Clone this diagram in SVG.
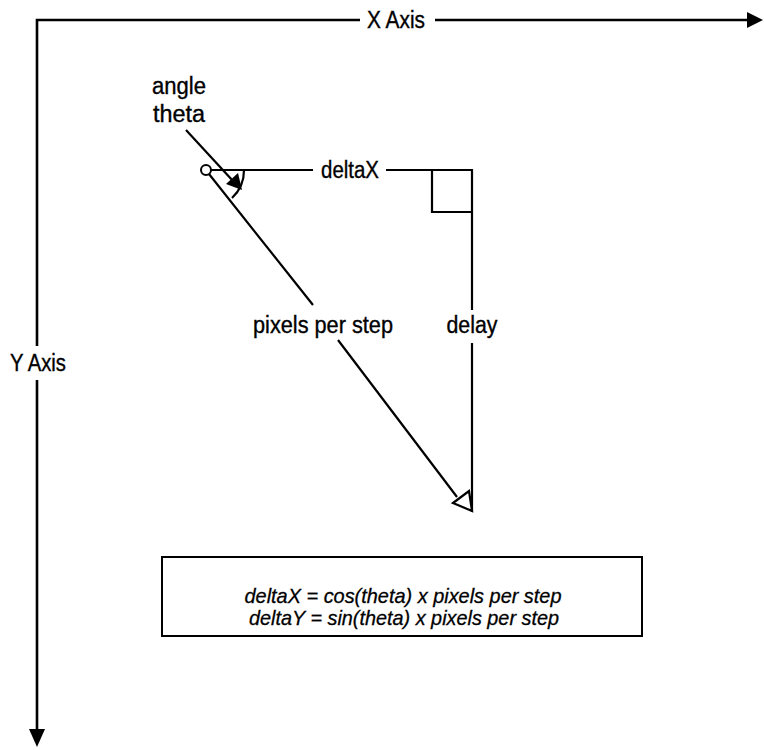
<svg xmlns="http://www.w3.org/2000/svg" width="764" height="750" viewBox="0 0 764 750">
<style>
.ln{stroke:#000;stroke-width:2.2;fill:none}
.ax{stroke:#000;stroke-width:2.6;fill:none}
.t{font-family:"Liberation Sans",Arial,sans-serif;font-size:23px;fill:#000;stroke:#000;stroke-width:0.35;text-anchor:middle}
.f{font-family:"Liberation Sans",Arial,sans-serif;font-size:21px;font-style:italic;fill:#000;stroke:#000;stroke-width:0.3;text-anchor:middle}
</style>
<rect width="764" height="750" fill="#fff"/>
<g id="connectors">
<path class="ax" d="M37,346 V20 H360"/>
<path class="ax" d="M435,20 H750"/>
<path d="M747,12 L763,20 L747,28 Z" fill="#000"/>
<path class="ax" d="M37,380 V732"/>
<path d="M29,729 L37,747 L45,729 Z" fill="#000"/>
<path class="ln" d="M210,170 H313 M386,170 H472 V310 M472,343 V512"/>
<path class="ln" d="M432,170 V212 H472"/>
<path class="ln" d="M209,174 L313,305 M338,340 L457,497"/>
<path d="M453,503 L469,491 L472,511 Z" fill="#fff" stroke="#000" stroke-width="2.2"/>
<path class="ln" d="M244,170 A38,38 0 0 1 232,198"/>
<path class="ln" d="M186,130 L233,181"/>
<path d="M226,184 L242,190 L238,173 Z" fill="#000"/>
</g>
<g id="origin"><circle cx="206" cy="170" r="5" fill="#fff" stroke="#000" stroke-width="2"/></g>
<g id="xaxis-label"><text class="t" x="396" y="28" textLength="58" lengthAdjust="spacingAndGlyphs">X Axis</text></g>
<g id="yaxis-label"><text class="t" x="38" y="371" textLength="56" lengthAdjust="spacingAndGlyphs">Y Axis</text></g>
<g id="angle-label"><text class="t" x="179" y="94" textLength="54" lengthAdjust="spacingAndGlyphs">angle</text><text class="t" x="179" y="122" textLength="52" lengthAdjust="spacingAndGlyphs">theta</text></g>
<g id="deltax-label"><text class="t" x="350" y="178" textLength="58" lengthAdjust="spacingAndGlyphs">deltaX</text></g>
<g id="delay-label"><text class="t" x="472" y="333" textLength="51" lengthAdjust="spacingAndGlyphs">delay</text></g>
<g id="pps-label"><text class="t" x="323" y="333" textLength="140" lengthAdjust="spacingAndGlyphs">pixels per step</text></g>
<g id="formula">
<rect x="162" y="557" width="480" height="79" fill="#fff" stroke="#000" stroke-width="2"/>
<text class="f" x="403" y="603" textLength="317" lengthAdjust="spacingAndGlyphs">deltaX = cos(theta) x pixels per step</text>
<text class="f" x="404" y="625" textLength="310" lengthAdjust="spacingAndGlyphs">deltaY = sin(theta) x pixels per step</text>
</g>
</svg>
